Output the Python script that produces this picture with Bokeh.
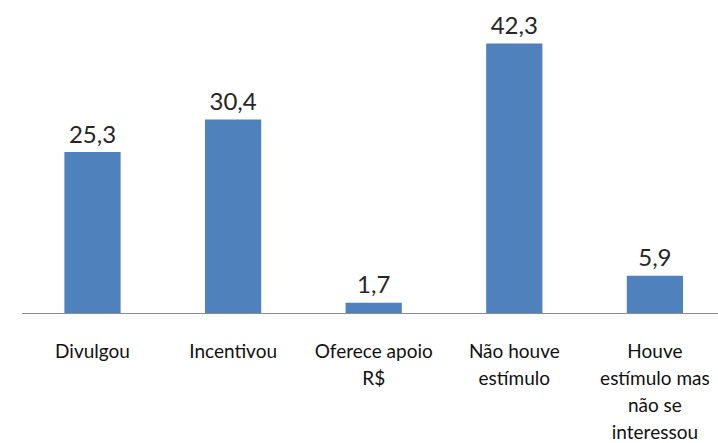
from bokeh.plotting import figure
from bokeh.models import ColumnDataSource, Range1d
from bokeh.core.properties import value
from bokeh.embed import file_html
from bokeh.resources import INLINE

categories = ["Divulgou", "Incentivou", "Oferece apoio\nR$", "Não houve\nestímulo",
              "Houve\nestímulo mas\nnão se\ninteressou"]
values = [25.3, 30.4, 1.7, 42.3, 5.9]
value_labels = ["25,3", "30,4", "1,7", "42,3", "5,9"]

xs = list(range(len(categories)))

# pixel geometry
W, H = 718, 443
px_per_cat = 140.6
first_center_px = 92
base_px = 313
px_per_unit = (base_px - 43) / max(values)

x_start = -first_center_px / px_per_cat
x_end = (W - first_center_px) / px_per_cat
y_top = base_px / px_per_unit
y_bot = -(H - base_px) / px_per_unit

p = figure(width=W, height=H, output_backend="svg", toolbar_location=None,
           x_range=Range1d(x_start, x_end), y_range=Range1d(y_bot, y_top),
           min_border=0, outline_line_color=None)
p.axis.visible = False
p.grid.visible = False
p.background_fill_color = "white"
p.border_fill_color = "white"

src = ColumnDataSource(dict(x=xs, top=values, lab=value_labels))
p.vbar(x="x", top="top", bottom=0, width=0.4, source=src,
       fill_color="#4F81BD", line_color=None)

# baseline (category axis line)
p.segment(x0=[-0.5], y0=[0], x1=[len(categories) - 0.5], y1=[0],
          line_color="#8C8C8C", line_width=1.2)

p.text(x="x", y="top", text="lab", source=src, text_align="center",
       text_baseline="alphabetic", y_offset=-18, text_font=value("Lato"),
       text_font_size="24px", text_color="#262626")

# category labels, line by line
lx, ly, lt, loff = [], [], [], []
for i, c in enumerate(categories):
    for j, line in enumerate(c.split("\n")):
        lx.append(xs[i]); ly.append(0); lt.append(line); loff.append(37 + 27 * j)
lsrc = ColumnDataSource(dict(x=lx, y=ly, t=lt, off=loff))
p.text(x="x", y="y", text="t", y_offset="off", source=lsrc, text_align="center",
       text_baseline="alphabetic", text_font=value("Lato"), text_font_size="19px",
       text_color="#111111")

open("out.html", "w").write(file_html(p, INLINE))
